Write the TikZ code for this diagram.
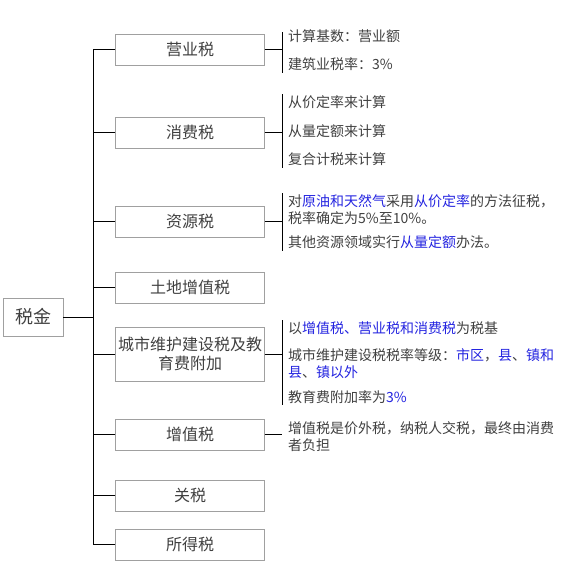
\documentclass[tikz,border=0pt]{standalone}
\usepackage{fontspec}
\setmainfont{Noto Sans CJK SC}
\usetikzlibrary{positioning}
\definecolor{boxgray}{HTML}{A0A0A0}
\definecolor{txtgray}{HTML}{404040}
\definecolor{linkblue}{HTML}{2424E0}
\newcommand{\hl}[1]{\textcolor{linkblue}{#1}}

\begin{document}
\begin{tikzpicture}[x=1pt, y=-1pt, font=\fontsize{14}{17}\selectfont, text=txtgray,
  taxbox/.style={draw=boxgray, line width=0.8pt, minimum width=148.5pt, minimum height=31pt,
    inner sep=0pt, align=center, font=\fontsize{16}{19}\selectfont},
  note/.style={anchor=west, inner sep=0pt, align=left},
  link/.style={draw=black, line width=0.8pt}]
\useasboundingbox (0,0) rectangle (573,563);
% root
\node[taxbox, minimum width=60pt, minimum height=38pt, font=\fontsize{18}{20}\selectfont] (tax) at (33,317) {税金};
% branches
\foreach \n/\y/\t in {b1/49.5/营业税, b2/132.5/消费税, b3/221.5/资源税, b4/287.5/土地增值税,
    b6/434.5/增值税, b7/495.5/关税, b8/544.5/所得税}
  \node[taxbox] (\n) at (190,\y) {\t};
\node[taxbox, minimum height=54pt] (b5) at (190,354) {城市维护建设税及教\\育费附加};
% trunk
\coordinate (trunk) at (93,0);
\draw[link] (tax.east) -- (tax.east -| trunk);
\draw[link] (b1.west -| trunk) -- (b8.west -| trunk);
\foreach \i in {1,...,8}
  \draw[link] (b\i.west) -- (b\i.west -| trunk);
% brackets on the right
\coordinate (rail) at (282,0);
\foreach \n in {b1,b2,b3,b5,b6}
  \draw[link] (\n.east) -- (\n.east -| rail);
\foreach \a/\b in {32/73, 94/168, 193/251, 320/405}
  \draw[link] (282,\a) -- (282,\b);
% notes
\node[note] (n11) at (288,36) {计算基数：营业额};
\node[note] (n12) at (288,64) {建筑业税率：3\%};
\node[note] (n21) at (288,102) {从价定率来计算};
\node[note] (n22) at (288,131) {从量定额来计算};
\node[note] (n23) at (288,159) {复合计税来计算};
\node[note] (n31) at (288,210) {对\hl{原油和天然气}采用\hl{从价定率}的方法征税，\\税率确定为5\%至10\%。};
\node[note] (n32) at (288,242) {其他资源领域实行\hl{从量定额}办法。};
\node[note] (n51) at (288,328) {以\hl{增值税、营业税和消费税}为税基};
\node[note] (n52) at (288,363.5) {城市维护建设税税率等级：\hl{市区}，\hl{县}、\hl{镇和}\\\hl{县}、\hl{镇以外}};
\node[note] (n53) at (288,397) {教育费附加率为\hl{3\%}};
\node[note] (n61) at (288,436.5) {增值税是价外税，纳税人交税，最终由消费\\者负担};
\end{tikzpicture}
\end{document}
